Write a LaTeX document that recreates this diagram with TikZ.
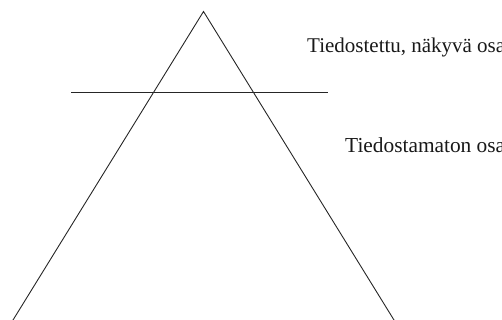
\documentclass[tikz,border=0pt]{standalone}
\usepackage{fontspec}
\setmainfont{Liberation Serif}
\begin{document}
\begin{tikzpicture}[x=1pt,y=-1pt,
  edge/.style={line width=0.9pt,draw=black!85},
  lbl/.style={anchor=base west,inner sep=0pt,text=black!90}]
\useasboundingbox (0,0) rectangle (502,320);
\coordinate (apex) at (203.5,11.5);
\coordinate (bl) at (12.4,321);
\coordinate (br) at (394.6,321);
\coordinate (hl) at (71,92.3);
\coordinate (hr) at (328,92.3);
\draw[edge] (bl) -- (apex) -- (br);
\draw[edge] (hl) -- (hr);
\node[lbl] (top) at (307,53) {\resizebox{198pt}{!}{Tiedostettu, näkyvä osa}};
\node[lbl] (bottom) at (345,153) {\resizebox{160pt}{!}{Tiedostamaton osa}};
\end{tikzpicture}
\end{document}
